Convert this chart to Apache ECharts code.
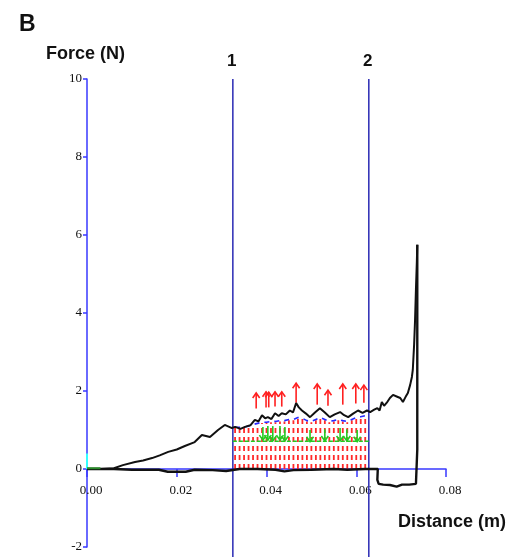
<!DOCTYPE html>
<html>
<head>
<meta charset="utf-8">
<script src="https://cdn.jsdelivr.net/npm/echarts@6/dist/echarts.min.js"></script>
<style>
  html, body { margin: 0; padding: 0; background: #fff; }
  #chart { width: 520px; height: 557px; }
</style>
</head>
<body>
<div id="chart"></div>
<script>
// Force–distance trace: loading path (rising) and unloading path (near zero)
const loadingPath = [
  [0.000, 0.00], [0.003, 0.00], [0.006, 0.02], [0.008, 0.10], [0.0107, 0.18],
  [0.0125, 0.22], [0.0145, 0.28], [0.0162, 0.35], [0.0181, 0.44], [0.0200, 0.50],
  [0.0218, 0.59], [0.0240, 0.69], [0.0256, 0.87], [0.0274, 0.82], [0.0292, 1.00],
  [0.0307, 1.13], [0.0323, 1.05], [0.0330, 1.08], [0.0342, 1.03], [0.0352, 1.08],
  [0.0364, 1.12], [0.0374, 1.26], [0.0382, 1.22], [0.0390, 1.38], [0.0397, 1.30],
  [0.0403, 1.33], [0.0411, 1.28], [0.0419, 1.43], [0.0427, 1.36], [0.0434, 1.43],
  [0.0443, 1.40], [0.0452, 1.50], [0.0459, 1.45], [0.0466, 1.69], [0.0472, 1.58],
  [0.0479, 1.50], [0.0488, 1.42], [0.0497, 1.33], [0.0508, 1.45], [0.0519, 1.56],
  [0.0530, 1.45], [0.0541, 1.33], [0.0552, 1.40], [0.0564, 1.46], [0.0573, 1.38],
  [0.0582, 1.33], [0.0593, 1.42], [0.0604, 1.50], [0.0614, 1.44], [0.0624, 1.50],
  [0.0631, 1.46], [0.0640, 1.52], [0.0647, 1.56], [0.0652, 1.50], [0.0657, 1.72],
  [0.0662, 1.62], [0.0668, 1.70], [0.0675, 1.82], [0.0682, 1.90], [0.0690, 1.86],
  [0.0698, 1.82], [0.0704, 1.72], [0.0710, 1.85], [0.0715, 1.95], [0.0720, 2.15],
  [0.0724, 2.36], [0.0726, 2.54], [0.0729, 3.20], [0.0731, 3.80], [0.0733, 4.60],
  [0.0735, 5.30], [0.0736, 5.75]
];
const unloadingPath = [
  [0.0736, 5.75], [0.0736, 0.50], [0.0733, -0.38], [0.0718, -0.40], [0.0702, -0.40],
  [0.0690, -0.45], [0.0675, -0.41], [0.0660, -0.40], [0.0650, -0.38], [0.0647, -0.28],
  [0.0648, 0.00], [0.0620, 0.00], [0.0580, -0.02], [0.0550, 0.00], [0.0500, -0.02],
  [0.0460, -0.03], [0.0440, -0.06], [0.0420, -0.02], [0.0380, 0.00], [0.0340, 0.00],
  [0.0310, -0.05], [0.0280, -0.03], [0.0240, -0.02], [0.0220, -0.07], [0.0180, -0.07],
  [0.0160, -0.02], [0.0100, -0.02], [0.0060, 0.00], [0.0000, 0.00]
];

// Position markers 1 and 2
const markerX = [0.0325, 0.0628];
const markerLabels = ['1', '2'];

// Sampled columns between the markers and the height of each column
const columnX = [0.033, 0.034, 0.035, 0.036, 0.037, 0.038, 0.039, 0.040, 0.041, 0.042,
                 0.043, 0.044, 0.045, 0.046, 0.047, 0.048, 0.049, 0.050, 0.051, 0.052,
                 0.053, 0.054, 0.055, 0.056, 0.057, 0.058, 0.059, 0.060, 0.061, 0.062];
const columnTop = [1.05, 1.05, 1.05, 1.08, 1.12, 1.15, 1.18, 1.18, 1.20, 1.20,
                   1.22, 1.22, 1.25, 1.25, 1.30, 1.28, 1.22, 1.20, 1.25, 1.30,
                   1.25, 1.20, 1.22, 1.25, 1.22, 1.20, 1.25, 1.30, 1.32, 1.35];

// Upward (red) force vectors: x, base, tip
const upX    = [0.0377, 0.0399, 0.0405, 0.0419, 0.0434, 0.0466, 0.0513, 0.0537, 0.0570, 0.0599, 0.0617];
const upBase = [1.55, 1.58, 1.58, 1.60, 1.60, 1.70, 1.65, 1.62, 1.65, 1.68, 1.70];
const upTip  = [1.95, 1.98, 1.97, 1.98, 1.98, 2.20, 2.18, 2.02, 2.18, 2.18, 2.15];

// Downward (green) vectors: x, start, end
const downX     = [0.0392, 0.0403, 0.0414, 0.0430, 0.0441, 0.0497, 0.0530, 0.0564, 0.0579, 0.0602];
const downStart = [1.08, 1.10, 1.10, 1.10, 1.08, 1.00, 1.02, 1.05, 1.02, 1.00];
const downEnd   = [0.74, 0.74, 0.72, 0.74, 0.72, 0.70, 0.72, 0.72, 0.72, 0.70];
const greenLevel = [[0.0325, 0.71], [0.0628, 0.71]];

const yTicks = [-2, 0, 2, 4, 6, 8, 10];
const xTicks = [0, 0.02, 0.04, 0.06, 0.08];

const AXIS_BLUE = '#3838ff';
const MARK_BLUE = '#2a2ab4';
const tickFont = { fontFamily: 'Liberation Serif', fontSize: 13, color: '#111' };

// grid geometry: the distance axis sits at force = 0
const GRID_TOP = 79, GRID_BOTTOM = 10, CHART_H = 557;
const plotH = CHART_H - GRID_TOP - GRID_BOTTOM;
const zeroLift = plotH * (0 - yTicks[0]) / (yTicks[yTicks.length - 1] - yTicks[0]);

const chart = echarts.init(document.getElementById('chart'));

function vectorItem(color, headUp) {
  return function (params, api) {
    const a = api.coord([api.value(0), api.value(1)]);
    const b = api.coord([api.value(0), api.value(2)]);
    const h = headUp ? 5 : -5;
    return {
      type: 'group',
      children: [
        { type: 'line', shape: { x1: a[0], y1: a[1], x2: b[0], y2: b[1] },
          style: { stroke: color, lineWidth: 1.6 } },
        { type: 'polyline', shape: { points: [[b[0] - 3.5, b[1] + h], [b[0], b[1]], [b[0] + 3.5, b[1] + h]] },
          style: { stroke: color, lineWidth: 1.6, fill: null } }
      ]
    };
  };
}

chart.setOption({
  animation: false,
  backgroundColor: '#fff',
  title: [
    { text: 'B', left: 14, top: 8, textStyle: { fontFamily: 'Liberation Sans', fontWeight: 'bold', fontSize: 23, color: '#111' } },
    { text: 'Force (N)', left: 41, top: 40, textStyle: { fontFamily: 'Liberation Sans', fontWeight: 'bold', fontSize: 18, color: '#111' } },
    { text: 'Distance (m)', left: 393, top: 508, textStyle: { fontFamily: 'Liberation Sans', fontWeight: 'bold', fontSize: 18, color: '#111' } }
  ],
  grid: { left: 87, right: 74, top: GRID_TOP, bottom: GRID_BOTTOM, outerBoundsMode: 'none', containLabel: false },
  xAxis: {
    type: 'value', min: xTicks[0], max: xTicks[xTicks.length - 1], interval: 0.02,
    offset: -zeroLift,
    axisLine: { show: true, onZero: false, lineStyle: { color: AXIS_BLUE, width: 1.5 } },
    axisTick: { show: true, length: 8, lineStyle: { color: AXIS_BLUE, width: 1.5 } },
    axisLabel: Object.assign({ margin: 15, padding: [0, 0, 0, 8], showMinLabel: true, showMaxLabel: true,
      formatter: v => v.toFixed(2) }, tickFont),
    splitLine: { show: false }
  },
  yAxis: {
    type: 'value', min: yTicks[0], max: yTicks[yTicks.length - 1], interval: 2,
    axisLine: { show: true, onZero: false, lineStyle: { color: AXIS_BLUE, width: 1.5 } },
    axisTick: { show: true, length: 4, lineStyle: { color: AXIS_BLUE, width: 1.5 } },
    axisLabel: Object.assign({ margin: 5, showMinLabel: true, showMaxLabel: true }, tickFont),
    splitLine: { show: false }
  },
  series: [
    // dashed red columns filling the zone between the markers
    {
      type: 'custom', z: 2,
      data: columnX.map((x, i) => [x, columnTop[i]]),
      renderItem: (params, api) => {
        const a = api.coord([api.value(0), 0]);
        const b = api.coord([api.value(0), api.value(1)]);
        return { type: 'line', shape: { x1: a[0], y1: a[1], x2: b[0], y2: b[1] },
          style: { stroke: '#ff2a2a', lineWidth: 1.8, lineDash: [5, 4] } };
      }
    },
    // blue dashed upper boundary of the column zone
    {
      type: 'line', z: 3, symbol: 'none',
      data: columnX.map((x, i) => [x, columnTop[i] + 0.02]),
      lineStyle: { color: '#2a2aff', width: 1.6, type: [5, 5] }
    },
    // green level line
    {
      type: 'line', z: 3, symbol: 'none', data: greenLevel,
      lineStyle: { color: '#22cc22', width: 1.5, type: [4, 2] }
    },
    // green downward vectors
    {
      type: 'custom', z: 4,
      data: downX.map((x, i) => [x, downStart[i], downEnd[i]]),
      renderItem: vectorItem('#22cc22', false)
    },
    // red upward vectors
    {
      type: 'custom', z: 4,
      data: upX.map((x, i) => [x, upBase[i], upTip[i]]),
      renderItem: vectorItem('#ff2020', true)
    },
    // loading trace
    {
      type: 'line', z: 5, symbol: 'none', data: loadingPath,
      lineStyle: { color: '#111', width: 2 }
    },
    // unloading trace
    {
      type: 'line', z: 5, symbol: 'none', data: unloadingPath,
      lineStyle: { color: '#111', width: 2.4 }
    },
    // small reference marks at the origin
    {
      type: 'line', z: 6, symbol: 'none', data: [[0, 0], [0, 0.4]],
      lineStyle: { color: '#33ffff', width: 2 }
    },
    {
      type: 'line', z: 6, symbol: 'none', data: [[0, 0.02], [0.003, 0.02]],
      lineStyle: { color: '#2a8a2a', width: 2 }
    },
    // position markers 1 and 2, running past the bottom of the axis
    {
      type: 'custom', z: 1, clip: false,
      data: markerX.map((x, i) => [x, 10, -2.3]),
      renderItem: (params, api) => {
        const a = api.coord([api.value(0), api.value(1)]);
        const b = api.coord([api.value(0), api.value(2)]);
        return {
          type: 'group',
          children: [
            { type: 'line', shape: { x1: a[0], y1: a[1], x2: b[0], y2: b[1] },
              style: { stroke: MARK_BLUE, lineWidth: 1.5 } },
            { type: 'text', x: a[0] - 1, y: a[1] - 18,
              style: { text: markerLabels[params.dataIndex], fill: '#111',
                font: 'bold 17px "Liberation Sans"', align: 'center', verticalAlign: 'middle' } }
          ]
        };
      }
    }
  ]
});
</script>
</body>
</html>
